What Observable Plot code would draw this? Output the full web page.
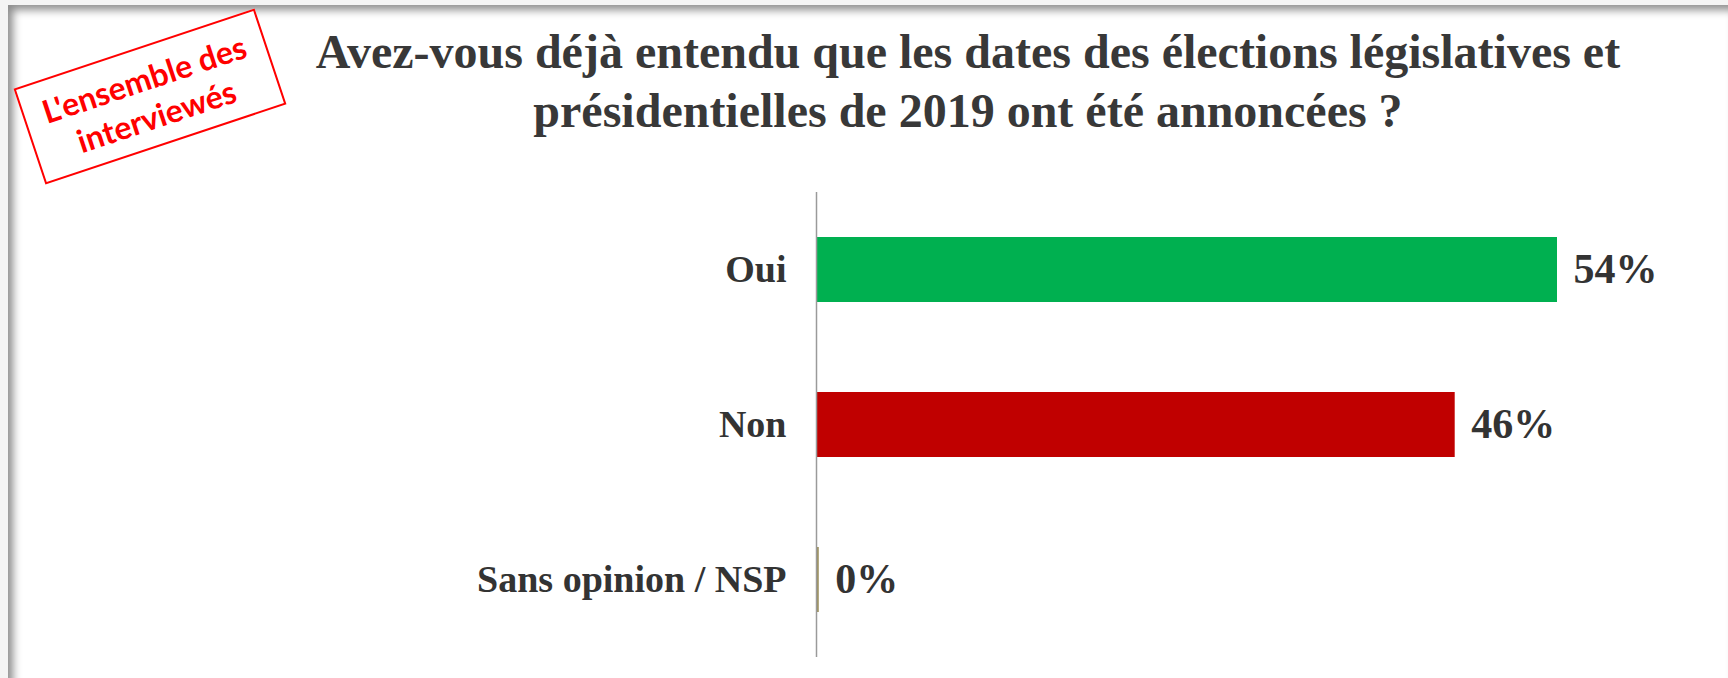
<!DOCTYPE html>
<html>
<head>
<meta charset="utf-8">
<script src="https://cdn.jsdelivr.net/npm/d3@7"></script>
<script src="https://cdn.jsdelivr.net/npm/@observablehq/plot@0.6"></script>
<style>
  html, body { margin: 0; padding: 0; background: #fff; }
  #wrap { position: relative; width: 1728px; height: 678px; overflow: hidden; background: #f4f4f4; }
  #frame { position: absolute; left: 8px; top: 5px; width: 1722px; height: 678px; background: #fff;
           box-shadow: inset 5px 5px 9px rgba(0,0,0,0.45); }
  #chart { position: absolute; left: 0; top: 0; }
  #title { position: absolute; left: 968px; top: 22px; transform: translateX(-50%); white-space: nowrap;
           text-align: center; font-family: "Liberation Serif", "Times New Roman", serif; font-weight: bold;
           font-size: 48px; line-height: 59px; color: #383838; }
  #stamp { position: absolute; left: 23px; top: 46px; width: 250px; height: 97px; border: 2px solid #ff0000;
           transform: rotate(-18.4deg); display: flex; align-items: center; justify-content: center;
           text-align: center; font-family: Lato, "Open Sans", sans-serif; font-weight: bold; font-size: 32px;
           line-height: 39px; color: #ff0000; background: #fff; }
</style>
</head>
<body>
<div id="wrap">
  <div id="frame"></div>
  <div id="chart"></div>
  <div id="title"></div>
  <div id="stamp"></div>
</div>
<script>
const titleLines = ["Avez-vous déjà entendu que les dates des élections législatives et", "présidentielles de 2019 ont été annoncées ?"];
const stampLines = ["L'ensemble des", "interviewés"];
const categories = ["Oui", "Non", "Sans opinion / NSP"];
const values = [53.6, 46.2, 0.2];
const colors = ["#00b050", "#c00000", "#9c915e"];

document.getElementById("title").innerHTML = titleLines.join("<br>");
document.getElementById("stamp").innerHTML = stampLines.join("<br>");

const data = categories.map((c, i) => ({cat: c, value: values[i], color: colors[i]}));

const chart = Plot.plot({
  width: 1728,
  height: 678,
  marginLeft: 816,
  marginRight: 171,
  marginTop: 192,
  marginBottom: 21,
  style: {background: "transparent", fontFamily: "'Liberation Serif', 'Times New Roman', serif"},
  x: {domain: [0, 53.6], axis: null},
  y: {domain: categories, paddingInner: 0.58, paddingOuter: 0.29, label: null},
  marks: [
    Plot.barX(data, {x: "value", y: "cat", fill: "color"}),
    Plot.ruleX([0], {stroke: "#9a9a9a", strokeWidth: 1.5}),
    Plot.text(data, {x: "value", y: "cat", text: d => Math.round(d.value) + "%", textAnchor: "start", dx: 16,
      fontSize: 42, fontWeight: "bold", fill: "#333"}),
    Plot.axisY({tickSize: 0, tickPadding: 30, fontSize: 38, fontWeight: "bold", color: "#333", label: null})
  ]
});
document.getElementById("chart").appendChild(chart);
</script>
</body>
</html>
